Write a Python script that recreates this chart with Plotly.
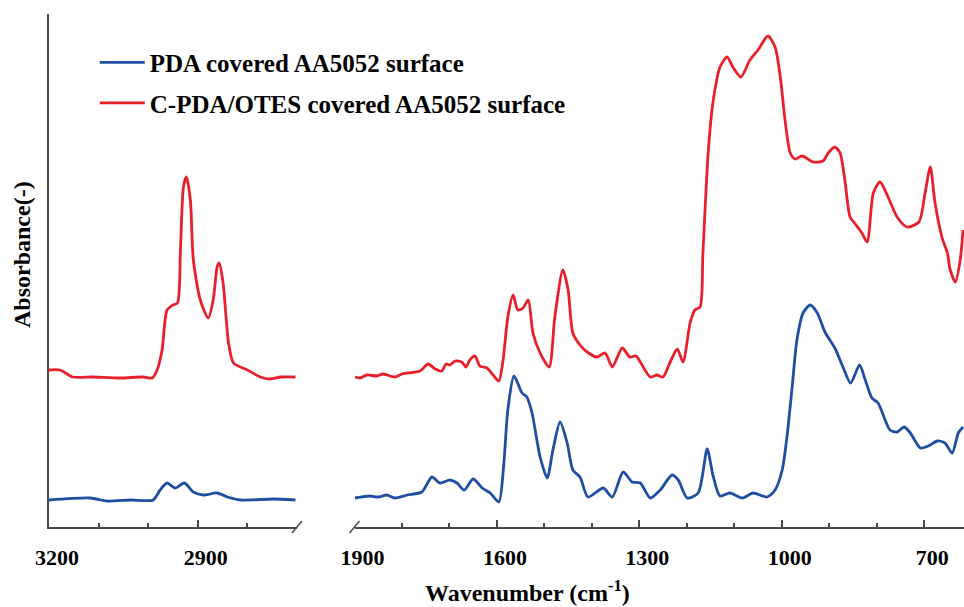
import plotly.graph_objects as go

# ---------------- data (wavenumber cm^-1, absorbance a.u.) ----------------
# High-wavenumber window (3200-2700)
wn_hi_otes = [3200, 3178, 3152, 3111, 3057, 3010, 2992, 2982, 2972, 2962, 2950, 2941,
              2935, 2929, 2923, 2915, 2909, 2895, 2879, 2869, 2861, 2857, 2849, 2838,
              2828, 2800, 2774, 2754, 2733, 2703]
ab_hi_otes = [1.57, 1.57, 1.50, 1.50, 1.49, 1.50, 1.49, 1.57, 1.77, 2.17, 2.22, 2.24,
              2.77, 3.40, 3.50, 3.27, 2.67, 2.27, 2.09, 2.27, 2.60, 2.64, 2.44, 1.84,
              1.64, 1.57, 1.50, 1.48, 1.50, 1.50]

wn_hi_pda = [3200, 3117, 3083, 3036, 2990, 2976, 2962, 2946, 2927, 2909, 2889, 2861,
             2840, 2814, 2748, 2703]
ab_hi_pda = [0.27, 0.29, 0.26, 0.27, 0.27, 0.37, 0.44, 0.39, 0.44, 0.35, 0.32, 0.34,
             0.30, 0.27, 0.28, 0.27]

# Fingerprint window (1900-616)
wn_lo_otes = [1899, 1888, 1874, 1853, 1840, 1815, 1800, 1762, 1745, 1730, 1716, 1707,
              1699, 1688, 1674, 1665, 1657, 1646, 1636, 1621, 1608, 1596, 1587, 1577,
              1566, 1556, 1545, 1534, 1524, 1509, 1490, 1478, 1461, 1450, 1440, 1425,
              1410, 1389, 1372, 1357, 1336, 1320, 1307, 1298, 1277, 1263, 1250, 1235,
              1220, 1208, 1193, 1183, 1172, 1166, 1155, 1145, 1130, 1115, 1103, 1086,
              1067, 1050, 1029, 1014, 1003, 993, 982, 972, 957, 934, 913, 902,
              888, 877, 867, 856, 845, 831, 820, 807, 793, 776, 757, 736,
              711, 698, 687, 677, 662, 651, 645, 634, 624, 618]
ab_lo_otes = [1.50, 1.49, 1.52, 1.51, 1.53, 1.50, 1.53, 1.56, 1.63, 1.58, 1.56, 1.63,
              1.62, 1.66, 1.65, 1.60, 1.67, 1.71, 1.61, 1.59, 1.52, 1.46, 1.67, 2.10,
              2.32, 2.17, 2.19, 2.27, 1.94, 1.74, 1.60, 2.10, 2.57, 2.37, 1.94, 1.82,
              1.75, 1.70, 1.74, 1.60, 1.79, 1.70, 1.71, 1.65, 1.50, 1.52, 1.50, 1.65,
              1.78, 1.65, 2.04, 2.17, 2.20, 2.74, 3.74, 4.24, 4.60, 4.70, 4.60, 4.50,
              4.67, 4.77, 4.91, 4.80, 4.50, 4.07, 3.74, 3.68, 3.71, 3.65, 3.66, 3.74,
              3.80, 3.74, 3.47, 3.10, 3.03, 2.94, 2.85, 3.34, 3.45, 3.30, 3.10, 3.00,
              3.05, 3.34, 3.60, 3.24, 2.89, 2.74, 2.57, 2.45, 2.67, 2.97]

wn_lo_pda = [1899, 1868, 1850, 1832, 1815, 1789, 1758, 1737, 1720, 1699, 1684, 1669,
             1650, 1631, 1614, 1596, 1586, 1577, 1564, 1547, 1537, 1526, 1509, 1494,
             1482, 1467, 1452, 1440, 1425, 1408, 1376, 1357, 1334, 1315, 1298, 1277,
             1256, 1231, 1218, 1199, 1176, 1157, 1145, 1130, 1109, 1083, 1060, 1031,
             1014, 999, 989, 978, 968, 955, 940, 925, 909, 888, 871, 855,
             836, 824, 810, 797, 772, 757, 742, 729, 708, 691, 672, 656,
             641, 628, 618]
ab_lo_pda = [0.29, 0.31, 0.30, 0.32, 0.29, 0.32, 0.35, 0.50, 0.44, 0.47, 0.44, 0.37,
             0.48, 0.39, 0.34, 0.25, 0.60, 1.17, 1.51, 1.34, 1.30, 1.14, 0.70, 0.49,
             0.77, 1.05, 0.84, 0.57, 0.50, 0.30, 0.39, 0.30, 0.55, 0.45, 0.44, 0.29,
             0.37, 0.52, 0.47, 0.29, 0.34, 0.78, 0.52, 0.31, 0.34, 0.29, 0.34, 0.30,
             0.37, 0.57, 0.90, 1.40, 1.87, 2.14, 2.22, 2.14, 1.95, 1.79, 1.60, 1.44,
             1.62, 1.47, 1.29, 1.24, 0.97, 0.95, 1.00, 0.94, 0.79, 0.81, 0.86, 0.84,
             0.74, 0.94, 1.00]

series_names = ["PDA covered AA5052 surface", "C-PDA/OTES covered AA5052 surface"]
colors = ["#1f4fa3", "#e8202c"]

hi_ticks_major = [3200, 2900]
hi_ticks_minor = [3100, 3000, 2800]
lo_ticks_major = [1900, 1600, 1300, 1000, 700]
lo_ticks_minor = [1800, 1700, 1500, 1400, 1200, 1100, 900, 800]

hi_range = [3200, 2700]
lo_range = [1900, 616]
y_range = [0, 5.13]

# ---------------- figure ----------------
W, H = 964, 607
ML, MR, MT, MB = 49, 0, 14, 80
pw = W - ML - MR
dom_hi = [0, (297 - ML) / pw]
dom_lo = [(354.5 - ML) / pw, 1]

serif = "Liberation Serif"
axis_col = "#4a4a4a"
lw = 2.8

fig = go.Figure()
fig.add_trace(go.Scatter(x=wn_hi_pda, y=ab_hi_pda, xaxis="x", yaxis="y", mode="lines",
                         line=dict(color=colors[0], width=lw, shape="spline", smoothing=0.7),
                         name=series_names[0], legendgroup="a", showlegend=True))
fig.add_trace(go.Scatter(x=wn_hi_otes, y=ab_hi_otes, xaxis="x", yaxis="y", mode="lines",
                         line=dict(color=colors[1], width=lw, shape="spline", smoothing=0.7),
                         name=series_names[1], legendgroup="b", showlegend=True))
fig.add_trace(go.Scatter(x=wn_lo_pda, y=ab_lo_pda, xaxis="x2", yaxis="y2", mode="lines",
                         line=dict(color=colors[0], width=lw, shape="spline", smoothing=0.7),
                         name=series_names[0], legendgroup="a", showlegend=False))
fig.add_trace(go.Scatter(x=wn_lo_otes, y=ab_lo_otes, xaxis="x2", yaxis="y2", mode="lines",
                         line=dict(color=colors[1], width=lw, shape="spline", smoothing=0.7),
                         name=series_names[1], legendgroup="b", showlegend=False))

tickfont = dict(family=serif, size=22, color="black", weight="bold")
common_x = dict(showline=True, linecolor=axis_col, linewidth=1.5, showgrid=False,
                zeroline=False, ticks="inside", ticklen=7, tickwidth=1.5, tickcolor=axis_col,
                tickfont=tickfont, tickmode="array", ticklabelshift=-8, ticklabelstandoff=10)

fig.update_layout(
    width=W, height=H,
    margin=dict(l=ML, r=MR, t=MT, b=MB),
    paper_bgcolor="white", plot_bgcolor="white",
    xaxis=dict(domain=dom_hi, range=hi_range, anchor="y",
               tickvals=hi_ticks_major, ticktext=[str(v) for v in hi_ticks_major],
               minor=dict(tickmode="array", tickvals=hi_ticks_minor, ticks="inside",
                          ticklen=4, tickwidth=1.5, tickcolor=axis_col),
               **common_x),
    xaxis2=dict(domain=dom_lo, range=lo_range, anchor="y2",
                tickvals=lo_ticks_major, ticktext=[str(v) for v in lo_ticks_major],
                minor=dict(tickmode="array", tickvals=lo_ticks_minor, ticks="inside",
                           ticklen=4, tickwidth=1.5, tickcolor=axis_col),
                **common_x),
    yaxis=dict(range=y_range, showline=True, linecolor=axis_col, linewidth=1.5,
               showticklabels=False, ticks="", showgrid=False, zeroline=False),
    yaxis2=dict(range=y_range, anchor="x2", showline=False,
                showticklabels=False, ticks="", showgrid=False, zeroline=False),
    legend=dict(x=0.05, y=0.95, xanchor="left", yanchor="top",
                font=dict(family=serif, size=25, color="black", weight="bold"),
                bgcolor="rgba(0,0,0,0)", tracegroupgap=5, itemwidth=45),
    showlegend=True,
)

# axis titles
fig.add_annotation(text="Wavenumber (cm<sup>-1</sup>)", xref="paper", yref="paper",
                   x=(527 - ML) / pw, y=-(591 - (H - MB)) / (H - MT - MB),
                   showarrow=False, xanchor="center", yanchor="middle",
                   font=dict(family=serif, size=24, color="black", weight="bold"))
fig.add_annotation(text="Absorbance(-)", xref="paper", yref="paper",
                   x=-(ML - 22) / pw, y=((H - MB) - 255) / (H - MT - MB), textangle=-90,
                   showarrow=False, xanchor="center", yanchor="middle",
                   font=dict(family=serif, size=24, color="black", weight="bold"))

# axis-break marks
for xr, yr, xa in (("x domain", "y domain", 1), ("x2 domain", "y2 domain", 0)):
    fig.add_shape(type="line", xref=xr, yref=yr, xsizemode="pixel", ysizemode="pixel",
                  xanchor=xa, yanchor=0, x0=-5, x1=5, y0=-6, y1=6,
                  line=dict(color=axis_col, width=1.5))

fig.write_html("out.html")
